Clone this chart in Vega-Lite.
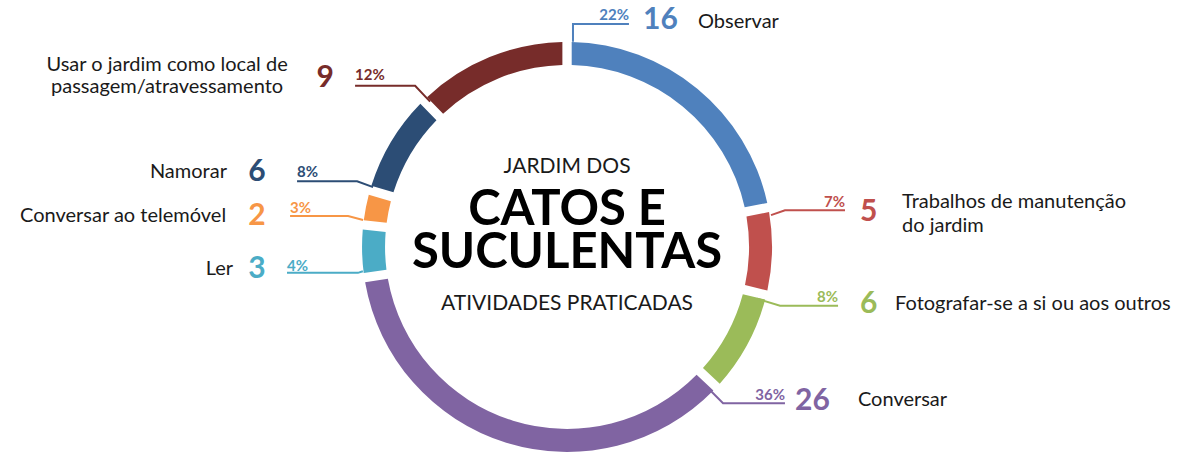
{
  "$schema": "https://vega.github.io/schema/vega-lite/v6.json",
  "width": 1188,
  "height": 452,
  "autosize": {"type": "fit", "contains": "padding"},
  "padding": 0,
  "background": "white",
  "config": {"view": {"stroke": null}, "font": "Lato", "text": {"font": "Lato"}},
  "datasets": {
    "cats": [
      {"cat": "Observar", "label": "Observar", "value": 16, "pct": "22%", "ord": 1, "side": "right", "nx": 37.1, "ny": 111.2, "lx": 63.9, "ly": 110.2, "px": 30.2, "py": 113.7},
      {"cat": "Trabalhos de manutenção do jardim", "label": "Trabalhos de manutenção\ndo jardim", "value": 5, "pct": "7%", "ord": 2, "side": "right", "nx": 142.9, "ny": 17.1, "lx": 163.4, "ly": 22.0, "px": 135.6, "py": 22.0},
      {"cat": "Fotografar-se a si ou aos outros", "label": "Fotografar-se a si ou aos outros", "value": 6, "pct": "8%", "ord": 3, "side": "right", "nx": 142.9, "ny": -27.8, "lx": 160.0, "ly": -27.8, "px": 132.2, "py": -24.4},
      {"cat": "Conversar", "label": "Conversar", "value": 26, "pct": "36%", "ord": 4, "side": "right", "nx": 111.2, "ny": -75.6, "lx": 141.9, "ly": -75.1, "px": 106.3, "py": -72.7},
      {"cat": "Ler", "label": "Ler", "value": 3, "pct": "4%", "ord": 5, "side": "left", "nx": -151.2, "ny": -10.7, "lx": -162.9, "ly": -10.7, "px": -136.6, "py": -9.3},
      {"cat": "Conversar ao telemóvel", "label": "Conversar ao telemóvel", "value": 2, "pct": "3%", "ord": 6, "side": "left", "nx": -151.2, "ny": 15.1, "lx": -166.3, "ly": 15.1, "px": -135.1, "py": 19.0},
      {"cat": "Namorar", "label": "Namorar", "value": 6, "pct": "8%", "ord": 7, "side": "left", "nx": -151.2, "ny": 36.6, "lx": -165.9, "ly": 36.6, "px": -131.7, "py": 36.6},
      {"cat": "Usar o jardim como local de passagem/atravessamento", "label": "Usar o jardim como local de\npassagem/atravessamento", "value": 9, "pct": "12%", "ord": 8, "side": "top", "nx": -118.0, "ny": 82.9, "lx": -195.1, "ly": 89.3, "px": -103.4, "py": 84.4}
    ],
    "leaders": [
      {"cat": "Observar", "pt": 1, "x": 2.9, "y": 100.5},
      {"cat": "Observar", "pt": 2, "x": 2.9, "y": 109.3},
      {"cat": "Observar", "pt": 3, "x": 30.2, "y": 109.3},
      {"cat": "Trabalhos de manutenção do jardim", "pt": 1, "x": 99.5, "y": 15.6},
      {"cat": "Trabalhos de manutenção do jardim", "pt": 2, "x": 106.3, "y": 18.0},
      {"cat": "Trabalhos de manutenção do jardim", "pt": 3, "x": 135.6, "y": 18.0},
      {"cat": "Fotografar-se a si ou aos outros", "pt": 1, "x": 92.7, "y": -25.4},
      {"cat": "Fotografar-se a si ou aos outros", "pt": 2, "x": 103.9, "y": -28.8},
      {"cat": "Fotografar-se a si ou aos outros", "pt": 3, "x": 132.2, "y": -28.8},
      {"cat": "Conversar", "pt": 1, "x": 69.8, "y": -70.2},
      {"cat": "Conversar", "pt": 2, "x": 76.1, "y": -76.6},
      {"cat": "Conversar", "pt": 3, "x": 106.3, "y": -76.6},
      {"cat": "Ler", "pt": 1, "x": -136.6, "y": -12.7},
      {"cat": "Ler", "pt": 2, "x": -102.0, "y": -12.7},
      {"cat": "Ler", "pt": 3, "x": -99.6, "y": -11.9},
      {"cat": "Conversar ao telemóvel", "pt": 1, "x": -135.1, "y": 15.1},
      {"cat": "Conversar ao telemóvel", "pt": 2, "x": -106.8, "y": 15.1},
      {"cat": "Conversar ao telemóvel", "pt": 3, "x": -99.5, "y": 13.2},
      {"cat": "Namorar", "pt": 1, "x": -131.7, "y": 32.2},
      {"cat": "Namorar", "pt": 2, "x": -102.4, "y": 32.2},
      {"cat": "Namorar", "pt": 3, "x": -94.6, "y": 29.3},
      {"cat": "Usar o jardim como local de passagem/atravessamento", "pt": 1, "x": -103.4, "y": 79.0},
      {"cat": "Usar o jardim como local de passagem/atravessamento", "pt": 2, "x": -74.1, "y": 79.0},
      {"cat": "Usar o jardim como local de passagem/atravessamento", "pt": 3, "x": -66.8, "y": 71.2}
    ],
    "titles": [
      {"t": "JARDIM DOS", "kind": "small", "y": 39.0},
      {"t": "CATOS E\nSUCULENTAS", "kind": "big", "y": 18.0},
      {"t": "ATIVIDADES PRATICADAS", "kind": "small", "y": -27.8}
    ]
  },
  "layer": [
    {
      "data": {"name": "cats"},
      "mark": {"type": "arc", "radius": 205, "radius2": 182, "padAngle": 0.034},
      "encoding": {
        "theta": {"field": "value", "type": "quantitative", "stack": true},
        "order": {"field": "ord", "type": "quantitative"},
        "color": {"field": "cat", "type": "nominal", "legend": null,
          "scale": {"domain": ["Observar", "Trabalhos de manutenção do jardim", "Fotografar-se a si ou aos outros", "Conversar", "Ler", "Conversar ao telemóvel", "Namorar", "Usar o jardim como local de passagem/atravessamento"],
                    "range": ["#4F81BD", "#C0504D", "#9BBB59", "#8064A2", "#4BACC6", "#F79646", "#2C4D75", "#772C2A"]}},
        "x": {"datum": 0, "type": "quantitative", "axis": null, "scale": {"domain": [-276.6, 302.9], "nice": false, "zero": false}},
        "y": {"datum": 0, "type": "quantitative", "axis": null, "scale": {"domain": [-99.5, 121.0], "nice": false, "zero": false}}
      }
    },
    {
      "data": {"name": "leaders"},
      "mark": {"type": "line", "strokeWidth": 2},
      "encoding": {
        "x": {"field": "x", "type": "quantitative", "axis": null, "scale": {"domain": [-276.6, 302.9], "nice": false, "zero": false}},
        "y": {"field": "y", "type": "quantitative", "axis": null, "scale": {"domain": [-99.5, 121.0], "nice": false, "zero": false}},
        "order": {"field": "pt", "type": "quantitative"},
        "color": {"field": "cat", "type": "nominal", "legend": null}
      }
    },
    {
      "data": {"name": "cats"},
      "transform": [{"filter": "datum.side == 'right'"}],
      "mark": {"type": "text", "align": "right", "baseline": "middle", "fontSize": 15, "fontWeight": "bold"},
      "encoding": {
        "x": {"field": "px", "type": "quantitative", "axis": null, "scale": {"domain": [-276.6, 302.9], "nice": false, "zero": false}},
        "y": {"field": "py", "type": "quantitative", "axis": null, "scale": {"domain": [-99.5, 121.0], "nice": false, "zero": false}},
        "text": {"field": "pct"},
        "color": {"field": "cat", "type": "nominal", "legend": null}
      }
    },
    {
      "data": {"name": "cats"},
      "transform": [{"filter": "datum.side != 'right'"}],
      "mark": {"type": "text", "align": "left", "baseline": "middle", "fontSize": 15, "fontWeight": "bold"},
      "encoding": {
        "x": {"field": "px", "type": "quantitative", "axis": null, "scale": {"domain": [-276.6, 302.9], "nice": false, "zero": false}},
        "y": {"field": "py", "type": "quantitative", "axis": null, "scale": {"domain": [-99.5, 121.0], "nice": false, "zero": false}},
        "text": {"field": "pct"},
        "color": {"field": "cat", "type": "nominal", "legend": null}
      }
    },
    {
      "data": {"name": "cats"},
      "transform": [{"filter": "datum.side == 'right'"}],
      "mark": {"type": "text", "align": "left", "baseline": "middle", "fontSize": 30, "fontWeight": "bold"},
      "encoding": {
        "x": {"field": "nx", "type": "quantitative", "axis": null, "scale": {"domain": [-276.6, 302.9], "nice": false, "zero": false}},
        "y": {"field": "ny", "type": "quantitative", "axis": null, "scale": {"domain": [-99.5, 121.0], "nice": false, "zero": false}},
        "text": {"field": "value"},
        "color": {"field": "cat", "type": "nominal", "legend": null}
      }
    },
    {
      "data": {"name": "cats"},
      "transform": [{"filter": "datum.side != 'right'"}],
      "mark": {"type": "text", "align": "center", "baseline": "middle", "fontSize": 30, "fontWeight": "bold"},
      "encoding": {
        "x": {"field": "nx", "type": "quantitative", "axis": null, "scale": {"domain": [-276.6, 302.9], "nice": false, "zero": false}},
        "y": {"field": "ny", "type": "quantitative", "axis": null, "scale": {"domain": [-99.5, 121.0], "nice": false, "zero": false}},
        "text": {"field": "value"},
        "color": {"field": "cat", "type": "nominal", "legend": null}
      }
    },
    {
      "data": {"name": "cats"},
      "transform": [{"filter": "datum.side == 'right'"}],
      "mark": {"type": "text", "align": "left", "baseline": "middle", "fontSize": 20, "lineBreak": "\n", "lineHeight": 24, "color": "#1a1a1a"},
      "encoding": {
        "x": {"field": "lx", "type": "quantitative", "axis": null, "scale": {"domain": [-276.6, 302.9], "nice": false, "zero": false}},
        "y": {"field": "ly", "type": "quantitative", "axis": null, "scale": {"domain": [-99.5, 121.0], "nice": false, "zero": false}},
        "text": {"field": "label"}
      }
    },
    {
      "data": {"name": "cats"},
      "transform": [{"filter": "datum.side == 'left'"}],
      "mark": {"type": "text", "align": "right", "baseline": "middle", "fontSize": 20, "color": "#1a1a1a"},
      "encoding": {
        "x": {"field": "lx", "type": "quantitative", "axis": null, "scale": {"domain": [-276.6, 302.9], "nice": false, "zero": false}},
        "y": {"field": "ly", "type": "quantitative", "axis": null, "scale": {"domain": [-99.5, 121.0], "nice": false, "zero": false}},
        "text": {"field": "label"}
      }
    },
    {
      "data": {"name": "cats"},
      "transform": [{"filter": "datum.side == 'top'"}],
      "mark": {"type": "text", "align": "center", "baseline": "middle", "fontSize": 20, "lineBreak": "\n", "lineHeight": 22, "color": "#1a1a1a"},
      "encoding": {
        "x": {"field": "lx", "type": "quantitative", "axis": null, "scale": {"domain": [-276.6, 302.9], "nice": false, "zero": false}},
        "y": {"field": "ly", "type": "quantitative", "axis": null, "scale": {"domain": [-99.5, 121.0], "nice": false, "zero": false}},
        "text": {"field": "label"}
      }
    },
    {
      "data": {"name": "titles"},
      "transform": [{"filter": "datum.kind == 'small'"}],
      "mark": {"type": "text", "align": "center", "baseline": "middle", "fontSize": 21, "color": "#1a1a1a"},
      "encoding": {
        "x": {"datum": 0, "type": "quantitative", "axis": null, "scale": {"domain": [-276.6, 302.9], "nice": false, "zero": false}},
        "y": {"field": "y", "type": "quantitative", "axis": null, "scale": {"domain": [-99.5, 121.0], "nice": false, "zero": false}},
        "text": {"field": "t"}
      }
    },
    {
      "data": {"name": "titles"},
      "transform": [{"filter": "datum.kind == 'big'"}],
      "mark": {"type": "text", "align": "center", "baseline": "middle", "fontSize": 49, "fontWeight": "bold", "color": "#000000", "lineBreak": "\n", "lineHeight": 43},
      "encoding": {
        "x": {"datum": 0, "type": "quantitative", "axis": null, "scale": {"domain": [-276.6, 302.9], "nice": false, "zero": false}},
        "y": {"field": "y", "type": "quantitative", "axis": null, "scale": {"domain": [-99.5, 121.0], "nice": false, "zero": false}},
        "text": {"field": "t"}
      }
    }
  ]
}
